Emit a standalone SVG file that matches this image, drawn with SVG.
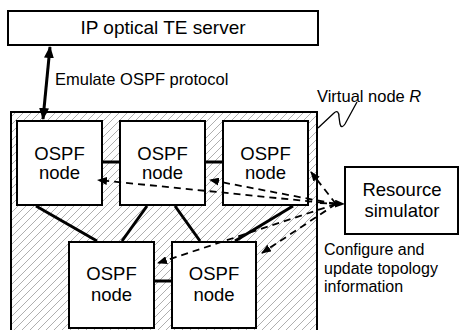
<svg xmlns="http://www.w3.org/2000/svg" width="460" height="330" viewBox="0 0 460 330">
  <style>
    .box { fill: #fff; stroke: #000; stroke-width: 2; }
    .lbl { font-family: "Liberation Sans", Arial, sans-serif; fill: #000; }
    .big { font-size: 18.5px; text-anchor: middle; }
    .small { font-size: 16.5px; }
    .link { stroke: #000; stroke-width: 3; fill: none; }
    .dash { stroke: #000; stroke-width: 1.8; fill: none; stroke-dasharray: 7 5; marker-end: url(#head); }
  </style>
  <defs>
    <pattern id="hatch" patternUnits="userSpaceOnUse" width="8" height="8">
      <path d="M-2,2 L2,-2 M0,8 L8,0 M6,10 L10,6" stroke="#9a9a9a" stroke-width="0.8"/>
    </pattern>
    <marker id="head" markerUnits="userSpaceOnUse" markerWidth="10" markerHeight="8" refX="9" refY="4" orient="auto">
      <path d="M0,0 L10,4 L0,8 z" fill="#000"/>
    </marker>
    <marker id="bold" markerUnits="userSpaceOnUse" markerWidth="12" markerHeight="10" refX="11" refY="5" orient="auto-start-reverse">
      <path d="M0,0 L12,5 L0,10 z" fill="#000"/>
    </marker>
  </defs>

  <!-- server -->
  <g id="server">
    <rect class="box" x="8" y="11" width="310" height="34"/>
    <text class="lbl" x="163" y="34" font-size="19" text-anchor="middle">IP optical TE server</text>
  </g>

  <!-- virtual node R: hatched enclosure -->
  <g id="virtual-node">
    <rect x="11" y="112" width="306" height="240" fill="url(#hatch)" stroke="#000" stroke-width="2"/>
    <path d="M318,128 L334,113 C337,110 339,112 339,117 L340,124 C341,128 343,127 345,124 L357,102" fill="none" stroke="#000" stroke-width="1.3"/>
    <text class="lbl small" x="317" y="102">Virtual node <tspan font-style="italic">R</tspan></text>
  </g>

  <!-- OSPF nodes -->
  <g id="ospf1">
    <rect class="box" x="17" y="121" width="85" height="84"/>
    <text class="lbl big" x="59.5" y="160">OSPF</text>
    <text class="lbl big" x="59.5" y="179">node</text>
  </g>
  <g id="ospf2">
    <rect class="box" x="120" y="121" width="85" height="84"/>
    <text class="lbl big" x="162.5" y="160">OSPF</text>
    <text class="lbl big" x="162.5" y="179">node</text>
  </g>
  <g id="ospf3">
    <rect class="box" x="223" y="121" width="85" height="84"/>
    <text class="lbl big" x="265.5" y="160">OSPF</text>
    <text class="lbl big" x="265.5" y="179">node</text>
  </g>
  <g id="ospf4">
    <rect class="box" x="69" y="242" width="85" height="86"/>
    <text class="lbl big" x="111.5" y="280">OSPF</text>
    <text class="lbl big" x="111.5" y="301">node</text>
  </g>
  <g id="ospf5">
    <rect class="box" x="172" y="242" width="84" height="86"/>
    <text class="lbl big" x="214" y="280">OSPF</text>
    <text class="lbl big" x="214" y="301">node</text>
  </g>

  <!-- resource simulator -->
  <g id="simulator">
    <rect class="box" x="345" y="167" width="113" height="67"/>
    <text class="lbl big" x="402" y="196">Resource</text>
    <text class="lbl big" x="402" y="217">simulator</text>
  </g>

  <!-- connectors, drawn over the node boxes -->
  <g id="connectors">
    <line class="link" x1="50" y1="47" x2="43" y2="119" marker-start="url(#bold)" marker-end="url(#bold)"/>
    <line class="link" x1="103" y1="162" x2="119" y2="162"/>
    <line class="link" x1="206" y1="162" x2="222" y2="162"/>
    <line class="link" x1="155" y1="281" x2="171" y2="281"/>
    <line class="link" x1="36" y1="206" x2="97" y2="241"/>
    <line class="link" x1="147" y1="206" x2="122" y2="241"/>
    <line class="link" x1="175" y1="206" x2="200" y2="241"/>
    <line class="link" x1="293" y1="206" x2="235" y2="241"/>

    <line class="dash" x1="336" y1="204" x2="98" y2="180"/>
    <line class="dash" x1="336" y1="204" x2="210" y2="180"/>
    <line class="dash" x1="336" y1="204" x2="311" y2="172"/>
    <line class="dash" x1="336" y1="204" x2="158" y2="263"/>
    <line class="dash" x1="336" y1="204" x2="262" y2="253"/>
    <line class="dash" x1="320" y1="203" x2="344" y2="204"/>
  </g>

  <!-- labels -->
  <g id="labels">
    <text class="lbl small" x="55" y="85">Emulate OSPF protocol</text>
    <text class="lbl" x="324" y="255" font-size="16">Configure and</text>
    <text class="lbl" x="324" y="274" font-size="16">update topology</text>
    <text class="lbl" x="324" y="292" font-size="16">information</text>
  </g>
</svg>
